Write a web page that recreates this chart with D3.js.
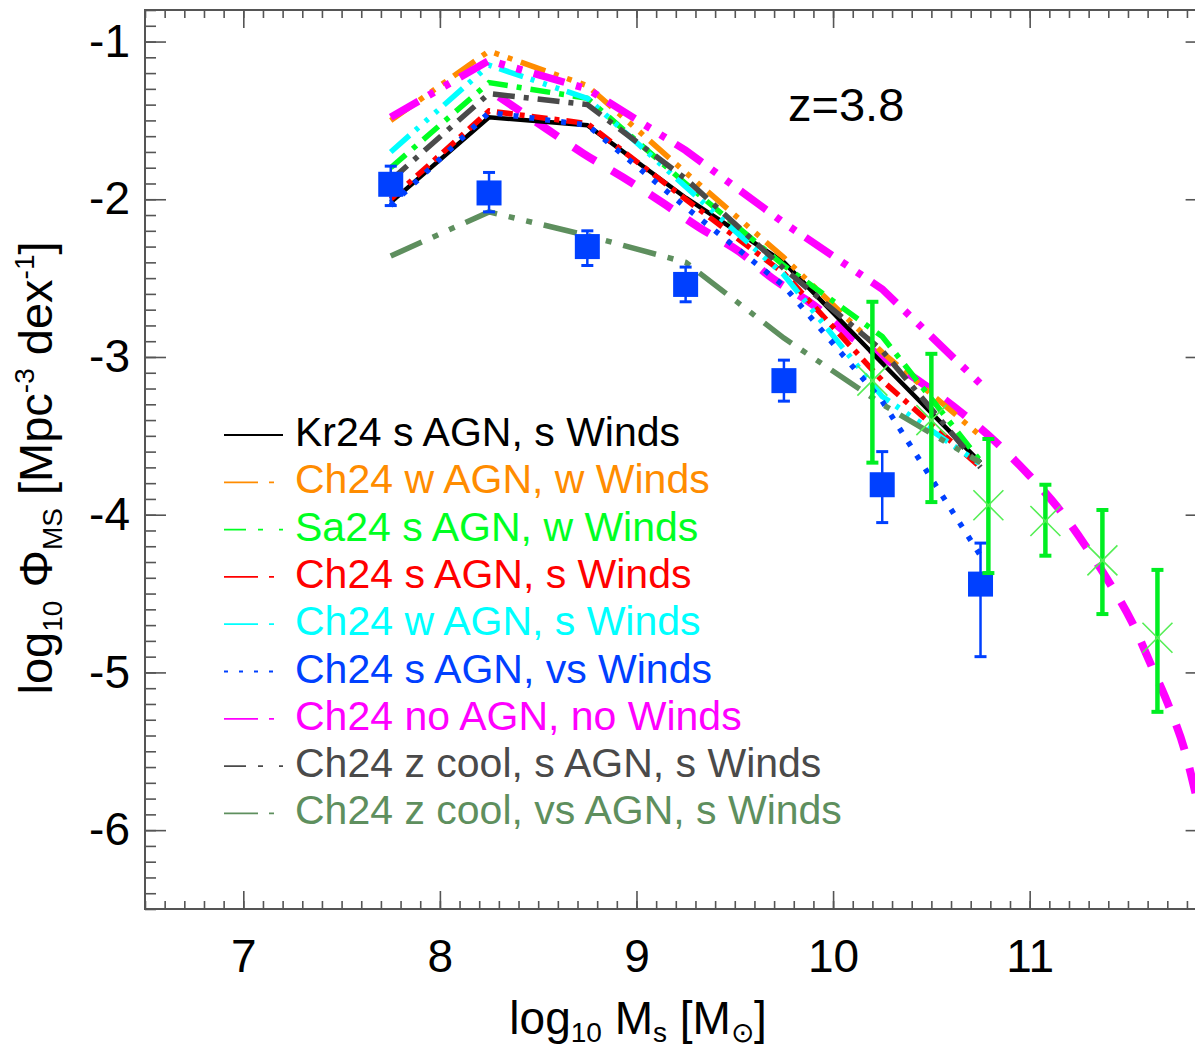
<!DOCTYPE html>
<html>
<head>
<meta charset="utf-8">
<script src="https://cdn.jsdelivr.net/npm/d3@7"></script>
<style>
  body { margin: 0; background: #fff; }
  svg { display: block; font-family: "Liberation Sans", Arial, Helvetica, sans-serif; }
</style>
</head>
<body>
<svg class="chart" width="1195" height="1052"></svg>
<script>
// model curves, all sampled on the same mass bins
const massBins = [7.75, 8.25, 8.75, 9.25, 9.75, 10.25, 10.75];
const kr24SAgnSWinds = [-2.02, -1.48, -1.53, -1.99, -2.40, -3.04, -3.67];
const ch24WAgnWWinds = [-1.50, -1.06, -1.28, -1.83, -2.37, -2.97, -3.50];
const sa24SAgnWWinds = [-1.80, -1.26, -1.36, -1.90, -2.42, -2.87, -3.66];
const ch24SAgnSWinds = [-2.00, -1.44, -1.52, -2.00, -2.47, -3.15, -3.70];
const ch24WAgnSWinds = [-1.70, -1.15, -1.36, -1.92, -2.48, -3.25, -3.68];
const ch24SAgnVsWinds = [-2.04, -1.45, -1.53, -2.05, -2.55, -3.28, -4.26];
const ch24NoAgnNoWinds = [-1.48, -1.12, -1.30, -1.69, -2.15, -2.57, -3.17];
const ch24ZcoolSAgnSWinds = [-1.88, -1.33, -1.40, -1.87, -2.44, -2.96, -3.70];
const ch24ZcoolVsAgnSWinds = [-2.36, -2.08, -2.23, -2.40, -2.88, -3.30, -3.67];

// thick magenta dashed curve (no legend entry)
const fitMass = [8.30, 8.55, 8.73, 8.93, 9.13, 9.32, 9.52, 9.69, 9.90, 10.09, 10.29, 10.48, 10.66, 10.82, 10.99, 11.14, 11.28, 11.41, 11.52, 11.62, 11.71, 11.79, 11.85];
const fitPhi = [-1.35, -1.56, -1.71, -1.86, -2.02, -2.18, -2.33, -2.50, -2.67, -2.87, -3.03, -3.19, -3.36, -3.53, -3.74, -3.95, -4.19, -4.44, -4.68, -4.96, -5.22, -5.50, -5.80];

// blue squares with error bars
const obsMass = [7.75, 8.25, 8.75, 9.25, 9.75, 10.25, 10.75];
const obsPhi = [-1.905, -1.96, -2.30, -2.54, -3.15, -3.81, -4.44];
const obsHi = [-1.79, -1.83, -2.20, -2.43, -3.02, -3.60, -4.18];
const obsLo = [-2.04, -2.08, -2.42, -2.65, -3.28, -4.05, -4.90];

// green crosses with error bars
const crossMass = [10.20, 10.50, 10.79, 11.08, 11.37, 11.65];
const crossPhi = [-3.15, -3.40, -3.94, -4.04, -4.29, -4.78];
const crossHi = [-2.65, -2.98, -3.52, -3.81, -3.97, -4.35];
const crossLo = [-3.67, -3.92, -4.37, -4.26, -4.63, -5.25];

const xTicks = [7, 8, 9, 10, 11];
const yTicks = [-1, -2, -3, -4, -5, -6];

const plot = { left: 145, top: 10, right: 1206.6, bottom: 909 };

const svg = d3.select(".chart");

const x = d3.scaleLinear().domain([6.5, 11.9]).range([plot.left, plot.right]);
const y = d3.scaleLinear().domain([-6.5, -0.8]).range([plot.bottom, plot.top]);

const series = [
  { label: "Kr24 s AGN, s Winds", values: kr24SAgnSWinds, color: "#000000", dash: null, width: 4.5, legendDash: null },
  { label: "Ch24 w AGN, w Winds", values: ch24WAgnWWinds, color: "#ff8c00", dash: "26 9 5 9 5 9 5 9", width: 5.5, legendDash: "34 11 5 100" },
  { label: "Sa24 s AGN, w Winds", values: sa24SAgnWWinds, color: "#00ff22", dash: "20 9 5 9", width: 5.5, legendDash: "22 12 5 16 5 100" },
  { label: "Ch24 s AGN, s Winds", values: ch24SAgnSWinds, color: "#ff0000", dash: "16 7 5 7", width: 5.5, legendDash: "34 11 5 100" },
  { label: "Ch24 w AGN, s Winds", values: ch24WAgnSWinds, color: "#00ffff", dash: "25 8 4 9 4 9 4 8", width: 5.5, legendDash: "34 11 5 100" },
  { label: "Ch24 s AGN, vs Winds", values: ch24SAgnVsWinds, color: "#0040ff", dash: "5 11", width: 5.5, legendDash: "4 11" },
  { label: "Ch24 no AGN, no Winds", values: ch24NoAgnNoWinds, color: "#ff00ff", dash: "32 12 6 12 6 12", width: 7.5, legendDash: "34 11 5 100" },
  { label: "Ch24 z cool, s AGN, s Winds", values: ch24ZcoolSAgnSWinds, color: "#4a4a4a", dash: "22 9 5 9", width: 5.5, legendDash: "22 12 5 16 5 100" },
  { label: "Ch24 z cool, vs AGN, s Winds", values: ch24ZcoolVsAgnSWinds, color: "#5e8f5e", dash: "34 12 6 12 6 12", width: 5.5, legendDash: "34 11 5 100" },
];

svg.append("clipPath").attr("id", "clip")
  .append("rect")
  .attr("x", plot.left).attr("y", plot.top)
  .attr("width", plot.right - plot.left).attr("height", plot.bottom - plot.top);

const g = svg.append("g").attr("clip-path", "url(#clip)");

const line = d3.line().x((d) => x(d[0])).y((d) => y(d[1]));

// lower magenta dashed curve
g.append("path")
  .datum(fitMass.map((m, i) => [m, fitPhi[i]]))
  .attr("d", d3.line().x((d) => x(d[0])).y((d) => y(d[1])).curve(d3.curveMonotoneX))
  .attr("fill", "none")
  .attr("stroke", "#ff00ff")
  .attr("stroke-width", 8)
  .attr("stroke-dasharray", "26 19");

// model lines
series.forEach((s) => {
  g.append("path")
    .datum(massBins.map((m, i) => [m, s.values[i]]))
    .attr("d", line)
    .attr("fill", "none")
    .attr("stroke", s.color)
    .attr("stroke-width", s.width)
    .attr("stroke-dasharray", s.dash);
});

// blue squares
const obs = obsMass.map((m, i) => ({ m, phi: obsPhi[i], hi: obsHi[i], lo: obsLo[i] }));
const obsG = g.append("g").attr("stroke", "#0040ff").attr("fill", "#0040ff");
obsG.selectAll(".ebar").data(obs).join("line")
  .attr("x1", (d) => x(d.m)).attr("x2", (d) => x(d.m))
  .attr("y1", (d) => y(d.hi)).attr("y2", (d) => y(d.lo))
  .attr("stroke-width", 2.5);
obsG.selectAll(".capHi").data(obs).join("line")
  .attr("x1", (d) => x(d.m) - 6).attr("x2", (d) => x(d.m) + 6)
  .attr("y1", (d) => y(d.hi)).attr("y2", (d) => y(d.hi))
  .attr("stroke-width", 3);
obsG.selectAll(".capLo").data(obs).join("line")
  .attr("x1", (d) => x(d.m) - 6).attr("x2", (d) => x(d.m) + 6)
  .attr("y1", (d) => y(d.lo)).attr("y2", (d) => y(d.lo))
  .attr("stroke-width", 3);
obsG.selectAll("rect").data(obs).join("rect")
  .attr("x", (d) => x(d.m) - 12.5).attr("y", (d) => y(d.phi) - 12.5)
  .attr("width", 25).attr("height", 25)
  .attr("stroke", "none");

// green crosses
const crosses = crossMass.map((m, i) => ({ m, phi: crossPhi[i], hi: crossHi[i], lo: crossLo[i] }));
const crossG = g.append("g").attr("stroke", "#00ee22");
crossG.selectAll(".ebar").data(crosses).join("line")
  .attr("x1", (d) => x(d.m)).attr("x2", (d) => x(d.m))
  .attr("y1", (d) => y(d.hi)).attr("y2", (d) => y(d.lo))
  .attr("stroke-width", 4.5);
crossG.selectAll(".capHi").data(crosses).join("line")
  .attr("x1", (d) => x(d.m) - 6).attr("x2", (d) => x(d.m) + 6)
  .attr("y1", (d) => y(d.hi)).attr("y2", (d) => y(d.hi))
  .attr("stroke-width", 4);
crossG.selectAll(".capLo").data(crosses).join("line")
  .attr("x1", (d) => x(d.m) - 6).attr("x2", (d) => x(d.m) + 6)
  .attr("y1", (d) => y(d.lo)).attr("y2", (d) => y(d.lo))
  .attr("stroke-width", 4);
crossG.selectAll(".x").data(crosses).join("path")
  .attr("d", (d) => {
    const cx = x(d.m), cy = y(d.phi), r = 15;
    return `M${cx - r},${cy - r}L${cx + r},${cy + r}M${cx - r},${cy + r}L${cx + r},${cy - r}`;
  })
  .attr("stroke", "#55ee55")
  .attr("stroke-width", 1.6)
  .attr("fill", "none");

// axes: ticks inside on all four sides
const axisColor = "#555";
const minorX = d3.range(65, 120).map((v) => v / 10);
const minorY = d3.range(-65, -7).map((v) => v / 10);

function styleAxis(sel) {
  sel.select(".domain").remove();
  sel.selectAll("line").attr("stroke", axisColor).attr("stroke-width", 1.6);
  sel.selectAll("text").attr("fill", "#000").attr("font-size", 46).attr("font-family", null);
}

svg.append("g").attr("transform", `translate(0,${plot.bottom})`)
  .call(d3.axisBottom(x).tickValues(minorX).tickSize(-8).tickFormat("")).call(styleAxis);
svg.append("g").attr("transform", `translate(0,${plot.bottom})`)
  .call(d3.axisBottom(x).tickValues(xTicks).tickSize(-18).tickPadding(30).tickFormat((d) => String(d))).call(styleAxis);
svg.append("g").attr("transform", `translate(0,${plot.top})`)
  .call(d3.axisTop(x).tickValues(minorX).tickSize(-8).tickFormat("")).call(styleAxis);
svg.append("g").attr("transform", `translate(0,${plot.top})`)
  .call(d3.axisTop(x).tickValues(xTicks).tickSize(-18).tickFormat("")).call(styleAxis);

svg.append("g").attr("transform", `translate(${plot.left},0)`)
  .call(d3.axisLeft(y).tickValues(minorY).tickSize(-11).tickFormat("")).call(styleAxis);
svg.append("g").attr("transform", `translate(${plot.left},0)`)
  .call(d3.axisLeft(y).tickValues(yTicks).tickSize(-21).tickPadding(15).tickFormat((d) => String(d))).call(styleAxis);
svg.append("g").attr("transform", `translate(${plot.right},0)`)
  .call(d3.axisRight(y).tickValues(minorY).tickSize(-11).tickFormat("")).call(styleAxis);
svg.append("g").attr("transform", `translate(${plot.right},0)`)
  .call(d3.axisRight(y).tickValues(yTicks).tickSize(-21).tickFormat("")).call(styleAxis);

svg.append("rect")
  .attr("x", plot.left).attr("y", plot.top)
  .attr("width", plot.right - plot.left).attr("height", plot.bottom - plot.top)
  .attr("fill", "none").attr("stroke", axisColor).attr("stroke-width", 2);

// legend
const legend = svg.append("g").attr("transform", "translate(224,446)");
series.forEach((s, i) => {
  const row = legend.append("g").attr("transform", `translate(0,${i * 47.3})`);
  row.append("line")
    .attr("x1", 0).attr("x2", 59).attr("y1", -11).attr("y2", -11)
    .attr("stroke", s.color).attr("stroke-width", 1.8)
    .attr("stroke-dasharray", s.legendDash);
  row.append("text")
    .attr("x", 71).attr("y", 0)
    .attr("font-size", 41)
    .attr("fill", s.color)
    .text(s.label);
});

// redshift label
svg.append("text").attr("x", 788).attr("y", 121).attr("font-size", 47).text("z=3.8");

// x axis title
const xt = svg.append("text")
  .attr("x", 638).attr("y", 1034)
  .attr("text-anchor", "middle").attr("font-size", 46);
xt.append("tspan").text("log");
xt.append("tspan").attr("font-size", 28).attr("dy", 8).text("10");
xt.append("tspan").attr("dy", -8).text(" M");
xt.append("tspan").attr("font-size", 28).attr("dy", 8).text("s");
xt.append("tspan").attr("dy", -8).text(" [M");
xt.append("tspan").attr("font-size", 28).attr("dy", 8).text("⊙");
xt.append("tspan").attr("dy", -8).text("]");

// y axis title
const yt = svg.append("text")
  .attr("transform", "translate(52,468) rotate(-90)")
  .attr("text-anchor", "middle").attr("font-size", 47);
yt.append("tspan").text("log");
yt.append("tspan").attr("font-size", 28).attr("dy", 10).text("10");
yt.append("tspan").attr("dy", -10).text(" Φ");
yt.append("tspan").attr("font-size", 28).attr("dy", 10).text("MS");
yt.append("tspan").attr("dy", -10).text(" [Mpc");
yt.append("tspan").attr("font-size", 28).attr("dy", -18).text("-3");
yt.append("tspan").attr("dy", 18).text(" dex");
yt.append("tspan").attr("font-size", 28).attr("dy", -18).text("-1");
yt.append("tspan").attr("dy", 18).text("]");
</script>
</body>
</html>
